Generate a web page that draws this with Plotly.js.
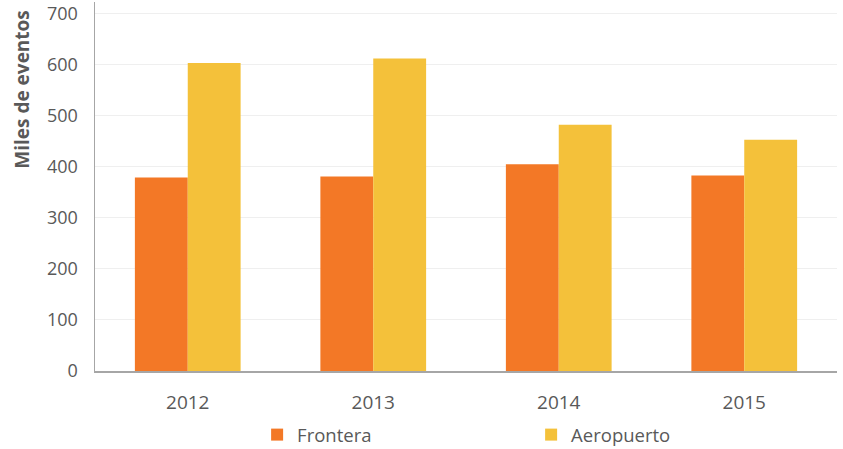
<!DOCTYPE html>
<html><head><meta charset="utf-8">
<script src="https://cdn.plot.ly/plotly-3.0.1.min.js"></script>
<style>html,body{margin:0;padding:0;background:#fff}#c{width:843px;height:449px}</style>
</head><body><div id="c"></div>
<script>
const years = ['2012','2013','2014','2015'];
const frontera = [379, 381, 405, 383];
const aeropuerto = [603, 612, 482, 453];
const yTicks = [0,100,200,300,400,500,600,700];
const yTitle = 'Miles de eventos';

const FF = 'Open Sans, sans-serif';
const data = [
  {type:'bar', name:'Frontera', x:years, y:frontera, marker:{color:'#F37826'}},
  {type:'bar', name:'Aeropuerto', x:years, y:aeropuerto, marker:{color:'#F4C13A'}}
];
const layout = {
  width:843, height:449,
  margin:{l:95, r:6, t:2, b:78, autoexpand:false},
  paper_bgcolor:'#fff', plot_bgcolor:'#fff',
  font:{family:FF, size:16, color:'#595959'},
  barmode:'group', bargap:0.43, bargroupgap:0,
  showlegend:true,
  legend:{orientation:'h', xref:'container', x:0.305, xanchor:'left', yref:'container', y:0.031, yanchor:'middle',
          font:{family:FF, size:18.5, color:'#595959'},
          entrywidth:229, itemwidth:30},
  xaxis:{type:'category', showgrid:false, showline:true, linecolor:'#a6a6a6', linewidth:1.5,
         automargin:false,
         ticks:'outside', ticklen:14, tickcolor:'rgba(0,0,0,0)',
         tickfont:{family:FF, size:19, color:'#595959'}},
  yaxis:{range:[0,722.5], tickvals:yTicks, showgrid:true, gridcolor:'#efefef', gridwidth:1,
         showline:true, linecolor:'#a6a6a6', linewidth:1.5, zeroline:false, automargin:false,
         ticks:'outside', ticklen:12, tickcolor:'rgba(0,0,0,0)', ticklabeloverflow:'allow',
         tickfont:{family:FF, size:18, color:'#595959'}},
  annotations:[{text:'<b>'+yTitle+'</b>', textangle:-90, xref:'paper', yref:'paper',
                x:-0.0984, y:0.765, xanchor:'center', yanchor:'middle', showarrow:false,
                font:{family:FF, size:19, color:'#595959'}}]
};
Plotly.newPlot('c', data, layout, {displayModeBar:false, staticPlot:true});
</script></body></html>
